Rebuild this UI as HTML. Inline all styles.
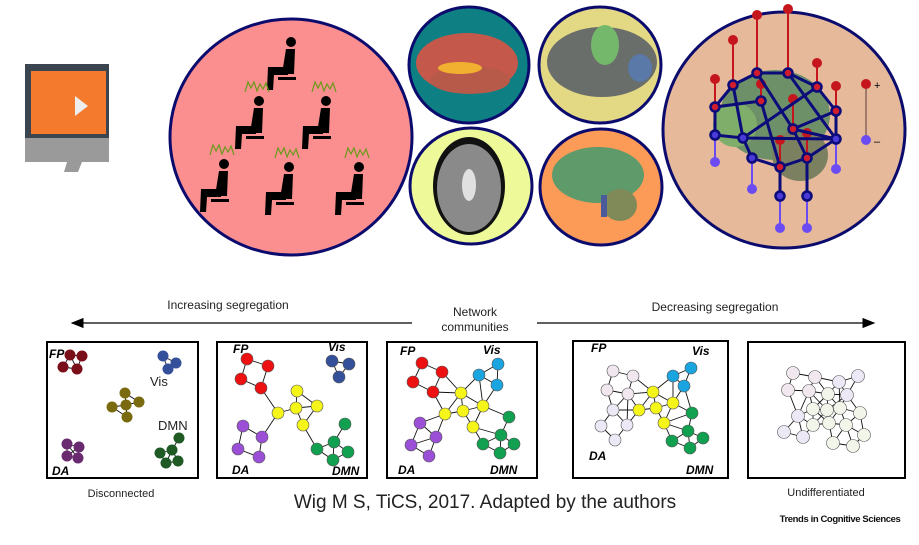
<!DOCTYPE html>
<html><head><meta charset="utf-8"><style>
html,body{margin:0;padding:0;background:#fff;width:919px;height:545px;overflow:hidden}
svg{display:block}
text{font-family:"Liberation Sans","DejaVu Sans",sans-serif}
</style></head><body>
<svg id="fig" width="919" height="545" viewBox="0 0 919 545" xmlns="http://www.w3.org/2000/svg">
<defs>
<marker id="ah" markerWidth="10" markerHeight="8" refX="9" refY="4" orient="auto"><path d="M0,0 L10,4 L0,8 Z" fill="#000"/></marker>
</defs>
<g>
<rect x="25" y="64" width="84" height="98" fill="#3a4550"/>
<rect x="25" y="138" width="84" height="24" fill="#9a9a9a"/>
<rect x="31" y="71" width="75" height="63" fill="#f47a2e"/>
<polygon points="75,96 88,106 75,116" fill="#eee"/>
<polygon points="67,162 82,162 78,172 64,172" fill="#9a9a9a"/>
</g>
<ellipse cx="291" cy="137" rx="121" ry="118" fill="#fb8f90" stroke="#0b0b6e" stroke-width="3"/>
<g id="people"></g>
<g>
<ellipse cx="469" cy="65" rx="60" ry="58" fill="#0e7f83" stroke="#0b0b6e" stroke-width="3"/>
<ellipse cx="467" cy="63" rx="51" ry="30" fill="#c4584a"/>
<ellipse cx="470" cy="80" rx="40" ry="14" fill="#b85a4a"/>
<ellipse cx="460" cy="68" rx="22" ry="6" fill="#f2b030"/>
</g>
<g>
<ellipse cx="600" cy="65" rx="61" ry="58" fill="#e3d884" stroke="#0b0b6e" stroke-width="3"/>
<ellipse cx="602" cy="62" rx="55" ry="35" fill="#6a6e6a"/>
<ellipse cx="605" cy="45" rx="14" ry="20" fill="#74b96b"/>
<ellipse cx="640" cy="68" rx="12" ry="14" fill="#5a78a8"/>
</g>
<g>
<ellipse cx="471" cy="186" rx="61" ry="58" fill="#eef99a" stroke="#0b0b6e" stroke-width="3"/>
<ellipse cx="469" cy="186" rx="36" ry="49" fill="#111"/>
<ellipse cx="469" cy="188" rx="32" ry="44" fill="#8a8a8a"/>
<ellipse cx="469" cy="185" rx="7" ry="16" fill="#e0e0e0"/>
</g>
<g>
<ellipse cx="601" cy="187" rx="61" ry="58" fill="#fc9b58" stroke="#0b0b6e" stroke-width="3"/>
<ellipse cx="598" cy="175" rx="46" ry="28" fill="#5e9a6a"/>
<ellipse cx="620" cy="205" rx="17" ry="16" fill="#7f8a58"/>
<rect x="601" y="195" width="6" height="22" fill="#4a5a9a"/>
</g>
<g>
<ellipse cx="784" cy="130" rx="121" ry="118" fill="#e6b99b" stroke="#0b0b6e" stroke-width="3"/>
<ellipse cx="775" cy="115" rx="55" ry="45" fill="#6d9068"/>
<ellipse cx="800" cy="155" rx="28" ry="26" fill="#7a8060"/>
<ellipse cx="735" cy="125" rx="22" ry="22" fill="#7fae6a"/>
<g id="bignet"></g>
<line x1="866" y1="84" x2="866" y2="140" stroke="#5a3a3a" stroke-width="1"/>
<circle cx="866" cy="84" r="5" fill="#c4161c"/>
<circle cx="866" cy="140" r="5" fill="#6a4cf2"/>
<text x="874" y="89" font-size="11">+</text>
<text x="874" y="145" font-size="11">–</text>
</g>
<line x1="412" y1="323" x2="72" y2="323" stroke="#000" stroke-width="1.3" marker-end="url(#ah)"/>
<line x1="537" y1="323" x2="874" y2="323" stroke="#000" stroke-width="1.3" marker-end="url(#ah)"/>
<text x="228" y="309" font-size="12" text-anchor="middle" fill="#222">Increasing segregation</text>
<text x="475" y="316" font-size="12" text-anchor="middle" fill="#222">Network</text>
<text x="475" y="331" font-size="12" text-anchor="middle" fill="#222">communities</text>
<text x="715" y="311" font-size="12" text-anchor="middle" fill="#222">Decreasing segregation</text>
<rect x="47" y="342" width="151" height="136" fill="none" stroke="#000" stroke-width="2"/>
<rect x="217" y="342" width="150" height="136" fill="none" stroke="#000" stroke-width="2"/>
<rect x="387" y="342" width="150" height="136" fill="none" stroke="#000" stroke-width="2"/>
<rect x="573" y="341" width="155" height="137" fill="none" stroke="#000" stroke-width="2"/>
<rect x="748" y="342" width="157" height="136" fill="none" stroke="#000" stroke-width="2"/>
<g id="nets"></g>
<g font-weight="bold" font-style="italic" font-size="12">
<text x="49" y="358">FP</text><text x="52" y="475">DA</text>
<text x="233" y="353">FP</text><text x="328" y="351">Vis</text><text x="232" y="474">DA</text><text x="332" y="475">DMN</text>
<text x="400" y="355">FP</text><text x="483" y="354">Vis</text><text x="398" y="474">DA</text><text x="490" y="474">DMN</text>
<text x="591" y="352">FP</text><text x="692" y="355">Vis</text><text x="589" y="460">DA</text><text x="686" y="474">DMN</text>
</g>
<text x="150" y="386" font-size="13" fill="#222">Vis</text>
<text x="158" y="430" font-size="13" fill="#222">DMN</text>
<text x="121" y="497" font-size="11" text-anchor="middle" fill="#222">Disconnected</text>
<text x="485" y="508" font-size="19" text-anchor="middle" fill="#222">Wig M S, TiCS, 2017. Adapted by the authors</text>
<text x="826" y="496" font-size="11" text-anchor="middle" fill="#222">Undifferentiated</text>
<text x="840" y="522" font-size="9.5" font-weight="bold" text-anchor="middle" fill="#111" letter-spacing="-0.4">Trends in Cognitive Sciences</text>
</svg>
<script>
const NS="http://www.w3.org/2000/svg";
const headsX=[291,259,326,224,289,359];
const headsY=[42,101,101,164,167,167];
const waveOn=[false,true,true,true,true,true];
const colors=["#7a0f1a","#34509a","#7a6a10","#6a2a70","#1f5a24","#ee1111","#34509a","#f5f51a","#9b4fd6","#10a050","#1aa5e0","#f0e8ee","#ece8f6","#f2f6ea"];
const p1=[[70,355,0],[82,356,0],[63,367,0],[77,369,0],[163,356,1],[176,363,1],[168,369,1],[125,393,2],[112,407,2],[126,405,2],[139,402,2],[127,417,2],[67,444,3],[79,447,3],[67,456,3],[78,458,3],[179,438,4],[172,450,4],[160,453,4],[178,461,4],[166,463,4]];
const p2=[[247,359,5],[268,366,5],[241,379,5],[261,388,5],[332,361,6],[349,364,6],[339,377,6],[297,391,7],[296,408,7],[317,406,7],[278,413,7],[303,425,7],[243,426,8],[262,437,8],[238,449,8],[259,457,8],[345,424,9],[334,442,9],[317,449,9],[348,452,9],[333,460,9]];
const p3=[[422,363,5],[442,372,5],[413,382,5],[433,392,5],[498,364,10],[479,375,10],[497,385,10],[461,393,7],[483,406,7],[463,411,7],[445,414,7],[473,427,7],[420,423,8],[436,437,8],[411,445,8],[429,456,8],[509,417,9],[501,435,9],[483,444,9],[514,444,9],[500,453,9]];
const p4=[[613,371,11],[633,376,11],[607,390,11],[628,394,11],[613,410,12],[601,426,12],[627,425,12],[615,440,12],[673,376,10],[691,368,10],[684,386,10],[653,392,7],[639,410,7],[656,408,7],[673,403,7],[664,423,7],[692,413,9],[688,431,9],[703,438,9],[672,441,9],[690,448,9]];
const p5=[[793,373,11],[815,377,11],[839,382,12],[858,376,12],[788,390,11],[809,391,11],[828,394,13],[847,395,12],[798,416,12],[813,409,13],[827,410,13],[840,408,13],[860,413,13],[784,432,12],[803,437,12],[813,425,13],[829,423,13],[846,425,13],[864,435,13],[833,443,13],[853,446,13]];
const panels=[[p1,19,5.5],[p2,26,6],[p3,27,6],[p4,26,6],[p5,24,6.5]];
const big=[[715,107],[733,85],[757,73],[788,73],[817,87],[836,111],[761,101],[793,129],[836,139],[743,138],[715,135],[752,158],[780,167],[807,158],[780,196],[807,196]];
const bigEdges=[[0,1],[1,2],[2,3],[3,4],[4,5],[0,6],[0,10],[1,9],[2,7],[3,8],[6,12],[9,11],[10,9],[9,8],[7,5],[7,8],[5,8],[11,12],[12,13],[13,8],[12,14],[13,15],[7,13],[4,9]];
const bigUp=[[0,-28],[1,-45],[2,-58],[3,-64],[4,-24],[5,-25],[6,-17],[7,-30],[12,-27],[13,-25]];
const bigDown=[[10,27],[11,31],[8,30],[14,32],[15,32]];

const people=document.getElementById('people');
for(let i=0;i<headsX.length;i++){
  const x=headsX[i],y=headsY[i];
  const g=document.createElementNS(NS,'g');
  
  
  g.innerHTML=`<circle cx="${x}" cy="${y}" r="5" fill="#000"/>
  <path d="M${x-5},${y+7} L${x+4},${y+7} L${x+3},${y+32} L${x-9},${y+32} Z" fill="#000"/>
  <path d="M${x-3},${y+25} L${x-3},${y+33} L${x-17},${y+33} L${x-18},${y+48} L${x-24},${y+48} L${x-23},${y+25} Z" fill="#000"/>
  <rect x="${x-13}" y="${y+35}" width="18" height="3" fill="#000"/>`+
  (waveOn[i]?`<polyline points="${x-14},${y-9} ${x-11},${y-19} ${x-8},${y-13} ${x-5},${y-19} ${x-2},${y-10} ${x+1},${y-17} ${x+4},${y-12} ${x+7},${y-18} ${x+10},${y-9}" fill="none" stroke="#6a9a1a" stroke-width="1.2"/>`:'');
  people.appendChild(g);
}
const bn=document.getElementById('bignet');
let s='';
for(const [i,d] of bigUp){const [x,y]=big[i];s+=`<line x1="${x}" y1="${y}" x2="${x}" y2="${y+d}" stroke="#c4161c" stroke-width="2"/><circle cx="${x}" cy="${y+d}" r="5" fill="#c4161c"/>`;}
for(const [i,d] of bigDown){const [x,y]=big[i];s+=`<line x1="${x}" y1="${y}" x2="${x}" y2="${y+d}" stroke="#6a4cf2" stroke-width="2"/><circle cx="${x}" cy="${y+d}" r="5" fill="#6a4cf2"/>`;}
for(const [a,b] of bigEdges){s+=`<line x1="${big[a][0]}" y1="${big[a][1]}" x2="${big[b][0]}" y2="${big[b][1]}" stroke="#0b0b7a" stroke-width="3"/>`;}
big.forEach((p,i)=>{const up=bigUp.some(u=>u[0]===i);s+=`<circle cx="${p[0]}" cy="${p[1]}" r="4.5" fill="${up?'#d01c2c':'#4a3ad8'}" stroke="#0b0b7a" stroke-width="2.5"/>`;});
bn.innerHTML=s;



const nets=document.getElementById('nets');
panels.forEach(([nodes,th,r],pi)=>{
  const g=document.createElementNS(NS,'g');
  
  
  let h='';
  for(let a=0;a<nodes.length;a++)for(let b=a+1;b<nodes.length;b++){
    const dx=nodes[a][0]-nodes[b][0],dy=nodes[a][1]-nodes[b][1];
    const same=nodes[a][2]===nodes[b][2];
    const lim=(pi===0)?(same?th:0):(same?th:th*1.2);
    if(Math.hypot(dx,dy)<lim)h+=`<line x1="${nodes[a][0]}" y1="${nodes[a][1]}" x2="${nodes[b][0]}" y2="${nodes[b][1]}" stroke="#111" stroke-width="0.9"/>`;
  }
  for(const n of nodes)h+=`<circle cx="${n[0]}" cy="${n[1]}" r="${r}" fill="${colors[n[2]]}" stroke="${pi===0?'none':'#555'}" stroke-width="0.6"/>`;
  g.innerHTML=h;nets.appendChild(g);
});
</script>
</body></html>
